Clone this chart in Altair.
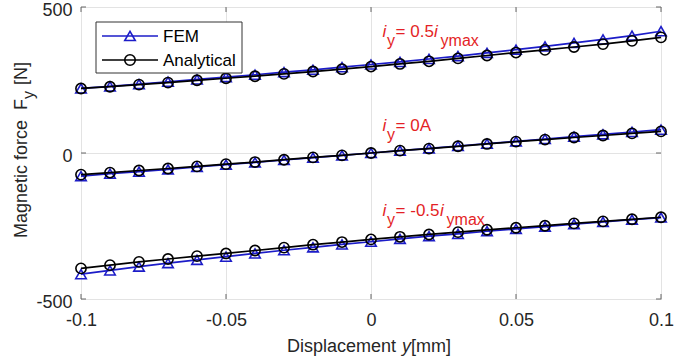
import altair as alt
import pandas as pd

# ---------------- data ----------------
x_mm = [-0.10, -0.09, -0.08, -0.07, -0.06, -0.05, -0.04, -0.03, -0.02, -0.01, 0.00,
        0.01, 0.02, 0.03, 0.04, 0.05, 0.06, 0.07, 0.08, 0.09, 0.10]
fem_pos = [221, 228, 236, 244, 252, 260, 268, 277, 285, 294, 303,
           312, 322, 332, 343, 354, 365, 377, 389, 402, 417]
ana_pos = [221, 227, 234, 241, 249, 256, 263, 271, 279, 287, 296,
           305, 314, 324, 334, 344, 353, 363, 373, 384, 396]
fem_zero = [-79, -71, -64, -56, -48, -40, -32, -24, -16, -8, 0,
            8, 16, 24, 32, 40, 48, 56, 64, 72, 80]
ana_zero = [-74, -67, -60, -53, -46, -38, -31, -23, -15, -8, 0,
            8, 15, 23, 31, 39, 46, 53, 60, 67, 74]
fem_neg = [-415, -402, -389, -377, -366, -355, -344, -333, -323, -313, -304,
           -294, -285, -277, -268, -260, -252, -244, -236, -228, -221]
ana_neg = [-395, -384, -373, -363, -353, -344, -334, -324, -314, -305, -296,
           -287, -279, -271, -263, -256, -249, -241, -234, -227, -220]

cases = ["pos", "zero", "neg"]
fem_series = [fem_pos, fem_zero, fem_neg]
ana_series = [ana_pos, ana_zero, ana_neg]

x_ticks = [-0.1, -0.05, 0, 0.05, 0.1]
y_ticks = [-500, 0, 500]

legend_names = ["FEM", "Analytical"]

ann_x = [0.004, 0.004, 0.004]
ann_y = [398, 76, -216]
ann_main = ["= 0.5", "= 0A", "= -0.5"]
ann_has_max = [True, False, True]
ann_suffix_dx = [51.5, 0, 57.5]

# ---------------- styles ----------------
FONT = "Liberation Sans"
BLUE = "#1c1cc8"
BLACK = "#000000"
RED = "#e41f26"
TXT = "#262626"
NB = "\u00a0"


def long_df(series):
    rows = []
    for c, vals in zip(cases, series):
        for xv, fv in zip(x_mm, vals):
            rows.append({"x": xv, "F": fv, "case": c})
    return pd.DataFrame(rows)


fem_df = long_df(fem_series)
ana_df = long_df(ana_series)
one = pd.DataFrame({"k": [0]})

xs = alt.Scale(domain=[-0.1, 0.1], nice=False)
ys = alt.Scale(domain=[-500, 500], nice=False)
label_expr = "(datum.value < 0 ? '-' : '') + format(abs(datum.value), '~g')"
xaxis = alt.Axis(values=x_ticks, title=None, grid=True, gridColor="#e3e3e3", domain=False,
                 ticks=False, tickSize=0, labelPadding=12, labelFontSize=18, labelFont=FONT,
                 labelColor=TXT, labelExpr=label_expr, labelFlush=False)
yaxis = alt.Axis(values=y_ticks, title=None, grid=True, gridColor="#e3e3e3", domain=False,
                 ticks=False, tickSize=0, labelPadding=9, labelFontSize=18, labelFont=FONT,
                 labelColor=TXT, labelExpr=label_expr, labelFlush=False, labelOffset=3)
X = alt.X("x:Q", scale=xs, axis=xaxis)
Y = alt.Y("F:Q", scale=ys, axis=yaxis)

layers = []

# inward ticks (MATLAB style)
xt_df = pd.DataFrame({"x": x_ticks})
yt_df = pd.DataFrame({"F": y_ticks})
for y1, y2 in [(292, 287), (0, 5)]:
    layers.append(alt.Chart(xt_df).mark_rule(color="#666", strokeWidth=1).encode(
        x=X, y=alt.value(y1), y2=alt.value(y2)))
for x1, x2 in [(0, 5), (580, 575)]:
    layers.append(alt.Chart(yt_df).mark_rule(color="#666", strokeWidth=1).encode(
        y=Y, x=alt.value(x1), x2=alt.value(x2)))

# data series
layers.append(alt.Chart(fem_df).mark_line(color=BLUE, strokeWidth=1.7).encode(x=X, y=Y, detail="case:N"))
layers.append(alt.Chart(fem_df).mark_point(shape="triangle-up", filled=False, color=BLUE,
                                           size=110, strokeWidth=1.6, opacity=1).encode(x=X, y=Y))
layers.append(alt.Chart(ana_df).mark_line(color=BLACK, strokeWidth=1.7).encode(x=X, y=Y, detail="case:N"))
layers.append(alt.Chart(ana_df).mark_point(shape="circle", filled=False, color=BLACK,
                                           size=105, strokeWidth=1.6, opacity=1).encode(x=X, y=Y))

# annotations
for i in range(3):
    adf = pd.DataFrame({"x": [ann_x[i]], "F": [ann_y[i]]})
    base = alt.Chart(adf)
    layers.append(base.mark_text(text="i", font=FONT, fontSize=17, fontStyle="italic", color=RED,
                                 align="left", baseline="alphabetic").encode(x=X, y=Y))
    layers.append(base.mark_text(text="y", font=FONT, fontSize=16, color=RED, dx=4.5, dy=9,
                                 align="left", baseline="alphabetic").encode(x=X, y=Y))
    layers.append(base.mark_text(text=ann_main[i], font=FONT, fontSize=17, color=RED, dx=13,
                                 align="left", baseline="alphabetic").encode(x=X, y=Y))
    if ann_has_max[i]:
        d = ann_suffix_dx[i]
        layers.append(base.mark_text(text="i", font=FONT, fontSize=17, fontStyle="italic", color=RED,
                                     dx=d, align="left", baseline="alphabetic").encode(x=X, y=Y))
        layers.append(base.mark_text(text="ymax", font=FONT, fontSize=16, color=RED, dx=d + 6.5, dy=9,
                                     align="left", baseline="alphabetic").encode(x=X, y=Y))

# legend (manual, MATLAB style)
oc = alt.Chart(one)
layers.append(oc.mark_rect(fill="white", stroke="#333", strokeWidth=1).encode(
    x=alt.value(15), x2=alt.value(161), y=alt.value(15), y2=alt.value(66)))
leg_y = [29, 53]
leg_col = [BLUE, BLACK]
leg_shape = ["triangle-up", "circle"]
for name, ly, col, shp in zip(legend_names, leg_y, leg_col, leg_shape):
    layers.append(oc.mark_rule(color=col, strokeWidth=1.7).encode(
        x=alt.value(21), x2=alt.value(77), y=alt.value(ly)))
    layers.append(oc.mark_point(shape=shp, filled=False, color=col, size=110, strokeWidth=1.6,
                                opacity=1).encode(x=alt.value(49), y=alt.value(ly)))
    layers.append(oc.mark_text(text=name, font=FONT, fontSize=17, color=BLACK, align="left",
                               baseline="middle").encode(x=alt.value(82), y=alt.value(ly + 1)))

# x-axis title: "Displacement  y[mm]"
layers.append(oc.mark_text(text="Displacement", font=FONT, fontSize=18, color=TXT, align="right",
                           baseline="alphabetic").encode(x=alt.value(315), y=alt.value(345)))
layers.append(oc.mark_text(text="y", font=FONT, fontSize=18, fontStyle="italic", color=TXT,
                           align="left", baseline="alphabetic").encode(x=alt.value(321), y=alt.value(345)))
layers.append(oc.mark_text(text="[mm]", font=FONT, fontSize=18, color=TXT, align="left",
                           baseline="alphabetic").encode(x=alt.value(330), y=alt.value(345)))

# y-axis title: "Magnetic force  F_y [N]" (rotated)
ya_x, ya_y = -54, 92
layers.append(oc.mark_text(text="Magnetic force" + NB + NB + "F", font=FONT, fontSize=18, color=TXT,
                           angle=270, align="right", baseline="alphabetic").encode(
    x=alt.value(ya_x), y=alt.value(ya_y)))
layers.append(oc.mark_text(text="y", font=FONT, fontSize=16, color=TXT, angle=270, dy=7,
                           align="left", baseline="alphabetic").encode(x=alt.value(ya_x), y=alt.value(ya_y)))
layers.append(oc.mark_text(text="[N]", font=FONT, fontSize=18, color=TXT, angle=270, dx=14,
                           align="left", baseline="alphabetic").encode(x=alt.value(ya_x), y=alt.value(ya_y)))

chart = alt.layer(*layers).properties(
    width=580, height=292,
    padding={"left": 81, "top": 7, "right": 14, "bottom": 58},
    autosize=alt.AutoSizeParams(type="none"),
    background="white",
).configure_view(stroke="#808080", strokeWidth=1)

chart.save("out.html", embed_options={"renderer": "svg", "actions": False})
